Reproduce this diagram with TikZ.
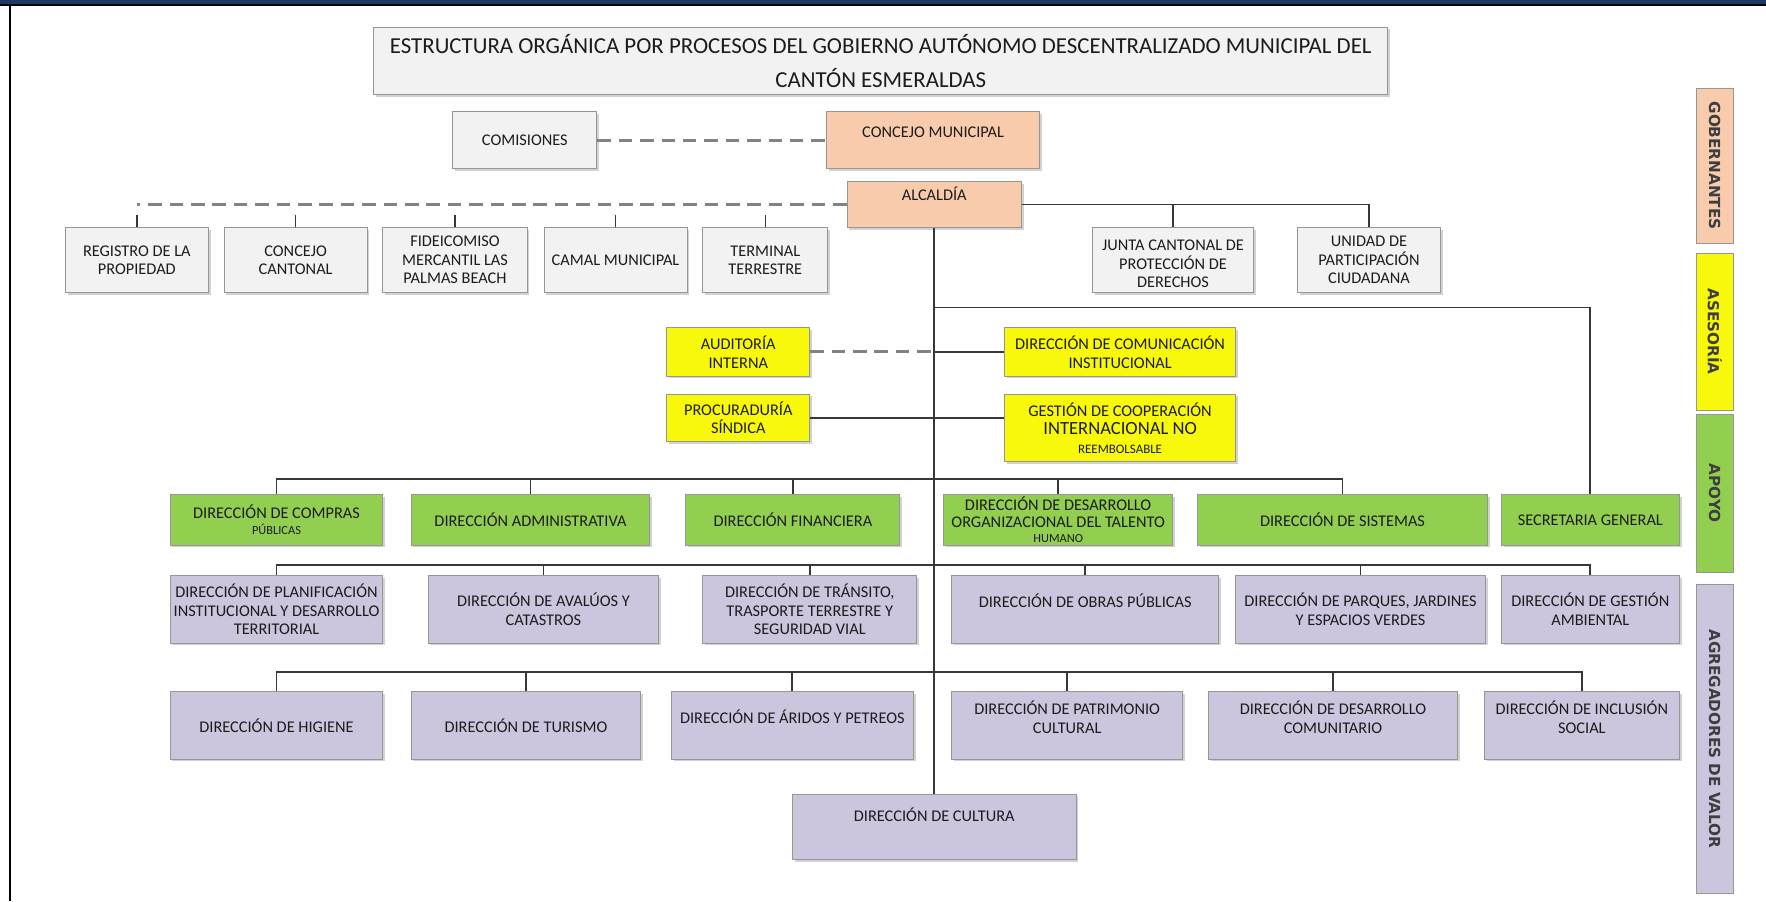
\documentclass[tikz,border=0pt]{standalone}
\usepackage{fontspec}
\setmainfont{Carlito}
\newfontfamily\sidefont{DejaVu Sans}
\usetikzlibrary{shadows}

\definecolor{frame}{RGB}{31,56,100}
\definecolor{boxline}{RGB}{150,150,150}
\definecolor{txt}{RGB}{28,28,28}
\definecolor{conn}{RGB}{55,55,55}
\definecolor{dashc}{RGB}{130,130,130}
\definecolor{lgray}{RGB}{242,242,242}
\definecolor{govcol}{RGB}{248,203,173}
\definecolor{asecol}{RGB}{248,248,10}
\definecolor{apocol}{RGB}{146,206,80}
\definecolor{agrcol}{RGB}{204,197,222}

\tikzstyle{unitbox} = [rectangle, draw=boxline, line width=0.8pt, align=center, text=txt, inner sep=1pt, font=\fontsize{14.5}{16.5}\selectfont, drop shadow={shadow xshift=2pt, shadow yshift=-2pt, opacity=0.35}]
\tikzstyle{ext} = [unitbox, fill=lgray]
\tikzstyle{gov} = [unitbox, fill=govcol]
\tikzstyle{ase} = [unitbox, fill=asecol]
\tikzstyle{apo} = [unitbox, fill=apocol]
\tikzstyle{agr} = [unitbox, fill=agrcol]
\tikzstyle{band} = [rectangle, rotate=-90, draw=boxline, line width=0.6pt, inner sep=0pt, minimum height=33pt, text=txt!85, font={\sidefont\bfseries\fontsize{13.5}{15}\selectfont}]
\tikzstyle{link} = [draw=conn, line width=1.6pt]
\tikzstyle{dlink} = [draw=dashc, line width=2.7pt, dash pattern=on 12pt off 7pt]
\tikzstyle{stub} = [draw=conn, line width=1.4pt, dash pattern=on 11pt off 30pt]
\tikzset{dims/.style 2 args={minimum width=#1pt, minimum height=#2pt},
  lift/.style={text height=9.3pt, text depth=#1pt}}

\begin{document}
\begin{tikzpicture}[x=1pt, y=-1pt]
	\fill[white, use as bounding box] (0,0) rectangle (1568,800);
	\fill[frame] (0,0) rectangle (1568,3.5);
	\draw[line width=1.5pt] (0,4.2) -- (1568,4.2);
	\draw[line width=2pt] (9,4) -- (9,800);

	\node (title) [ext, dims={900}{60}, font=\fontsize{20.3}{30}\selectfont] at (782,54) {ESTRUCTURA ORGÁNICA POR PROCESOS DEL GOBIERNO AUTÓNOMO DESCENTRALIZADO MUNICIPAL DEL\\CANTÓN ESMERALDAS};

	% gobernantes
	\node (comisiones) [ext, dims={128}{51}] at (466,124.5) {COMISIONES};
	\node (concejo) [gov, dims={189}{51}, lift=15] at (828.5,124.5) {CONCEJO MUNICIPAL};
	\node (alcaldia) [gov, dims={155}{41}, lift=17] at (829.5,181.5) {ALCALDÍA};

	\node (registro) [ext, dims={127}{58}] at (121.5,231) {REGISTRO DE LA\\PROPIEDAD};
	\node (cantonal) [ext, dims={127}{58}] at (262.5,231) {CONCEJO\\CANTONAL};
	\node (fideicomiso) [ext, dims={128}{58}] at (404,231) {FIDEICOMISO\\MERCANTIL LAS\\PALMAS BEACH};
	\node (camal) [ext, dims={127}{58}] at (546.5,231) {CAMAL MUNICIPAL};
	\node (terminal) [ext, dims={111}{58}] at (679.5,231) {TERMINAL\\TERRESTRE};
	\node (junta) [ext, dims={143}{58}] at (1041.5,231) {\mbox{}\\[0pt]JUNTA CANTONAL DE\\PROTECCIÓN DE\\DERECHOS};
	\node (unidad) [ext, dims={127}{58}] at (1215.5,231) {UNIDAD DE\\PARTICIPACIÓN\\CIUDADANA};

	% asesoria
	\node (auditoria) [ase, dims={127}{43}] at (655.5,312.5) {AUDITORÍA\\INTERNA};
	\node (procuraduria) [ase, dims={127}{42}] at (655.5,371) {PROCURADURÍA\\SÍNDICA};
	\node (comunicacion) [ase, dims={205}{43}] at (994.5,312.5) {DIRECCIÓN DE COMUNICACIÓN\\INSTITUCIONAL};
	\node (gestion) [ase, dims={205}{60}] at (994.5,380) {GESTIÓN DE COOPERACIÓN\\{\fontsize{16.5}{17}\selectfont INTERNACIONAL NO}\\{\fontsize{11.5}{13}\selectfont REEMBOLSABLE}};

	% apoyo
	\node (compras) [apo, dims={189}{45}] at (245.5,461.5) {DIRECCIÓN DE COMPRAS\\[-3pt]{\fontsize{11}{12}\selectfont PÚBLICAS}};
	\node (administrativa) [apo, dims={212}{45}] at (471,461.5) {DIRECCIÓN ADMINISTRATIVA};
	\node (financiera) [apo, dims={190}{45}] at (704,461.5) {DIRECCIÓN FINANCIERA};
	\node (desarrollo) [apo, dims={203}{45}] at (939.5,461.5) {DIRECCIÓN DE DESARROLLO\\[-1pt]ORGANIZACIONAL DEL TALENTO\\[-3pt]{\fontsize{11}{12}\selectfont HUMANO}};
	\node (sistemas) [apo, dims={258}{45}] at (1192,461.5) {DIRECCIÓN DE SISTEMAS};
	\node (secretaria) [apo, dims={158}{45}] at (1412,461.5) {SECRETARIA GENERAL};

	% agregadores de valor
	\node (planificacion) [agr, dims={189}{60}] at (245.5,541) {DIRECCIÓN DE PLANIFICACIÓN\\INSTITUCIONAL Y DESARROLLO\\TERRITORIAL};
	\node (avaluos) [agr, dims={205}{60}] at (482.5,541) {DIRECCIÓN DE AVALÚOS Y\\CATASTROS};
	\node (transito) [agr, dims={190}{60}] at (719,541) {DIRECCIÓN DE TRÁNSITO,\\TRASPORTE TERRESTRE Y\\SEGURIDAD VIAL};
	\node (obras) [agr, dims={237}{60}, lift=13] at (963.5,541) {DIRECCIÓN DE OBRAS PÚBLICAS};
	\node (parques) [agr, dims={222}{60}] at (1208,541) {DIRECCIÓN DE PARQUES, JARDINES\\Y ESPACIOS VERDES};
	\node (ambiental) [agr, dims={158}{60}] at (1412,541) {DIRECCIÓN DE GESTIÓN\\AMBIENTAL};

	\node (higiene) [agr, dims={189}{60}] at (245.5,644) {DIRECCIÓN DE HIGIENE};
	\node (turismo) [agr, dims={204}{60}] at (467,644) {DIRECCIÓN DE TURISMO};
	\node (aridos) [agr, dims={215}{60}, lift=13] at (703.5,644) {DIRECCIÓN DE ÁRIDOS Y PETREOS};
	\node (patrimonio) [agr, dims={205}{60}] at (947.5,644) {DIRECCIÓN DE PATRIMONIO\\CULTURAL\\[-2pt]\mbox{}};
	\node (comunitario) [agr, dims={221}{60}] at (1183.5,644) {DIRECCIÓN DE DESARROLLO\\COMUNITARIO\\[-2pt]\mbox{}};
	\node (inclusion) [agr, dims={173}{60}] at (1404.5,644) {DIRECCIÓN DE INCLUSIÓN\\SOCIAL\\[-2pt]\mbox{}};
	\node (cultura) [agr, dims={252}{58}, lift=19] at (829.5,734) {DIRECCIÓN DE CULTURA};

	% bandas laterales
	\node (bgob) [band, fill=govcol, minimum width=138pt] at (1522.5,147) {GOBERNANTES};
	\node (base) [band, fill=asecol, minimum width=139pt] at (1522.5,294.5) {ASESORÍA};
	\node (bapo) [band, fill=apocol, minimum width=140pt] at (1522.5,438) {APOYO};
	\node (bagr) [band, fill=agrcol, minimum width=274pt] at (1522.5,656) {AGREGADORES DE VALOR};

	% conectores
	\coordinate (sec) at (829.5,273);
	\coordinate (gbus) at (829.5,425);
	\coordinate (pbusa) at (829.5,502);
	\coordinate (pbusb) at (829.5,597);
	\draw [dlink] (comisiones) -- (concejo);
	\draw [dlink] (alcaldia.west) -- (alcaldia.west -| registro.north);
	\foreach \n in {registro,cantonal,fideicomiso,camal,terminal}
		\draw [stub] (\n.north) -- (\n.north |- alcaldia.west);
	\draw [link] (alcaldia.east) -| (junta.north);
	\draw [link] (alcaldia.east) -| (unidad.north);
	\draw [link] (alcaldia.south) -- (cultura.north);
	\draw [link] (sec) -| (secretaria.north);
	\draw [dlink] (auditoria) -- (auditoria -| alcaldia.south);
	\draw [link] (comunicacion) -- (comunicacion -| alcaldia.south);
	\draw [link] (procuraduria) -- (procuraduria -| gestion.west);
	\foreach \n in {compras,administrativa,financiera,desarrollo,sistemas}
		\draw [link] (\n.north) |- (gbus);
	\foreach \n in {planificacion,avaluos,transito,obras,parques,ambiental}
		\draw [link] (\n.north) |- (pbusa);
	\foreach \n in {higiene,turismo,aridos,patrimonio,comunitario,inclusion}
		\draw [link] (\n.north) |- (pbusb);
\end{tikzpicture}
\end{document}
